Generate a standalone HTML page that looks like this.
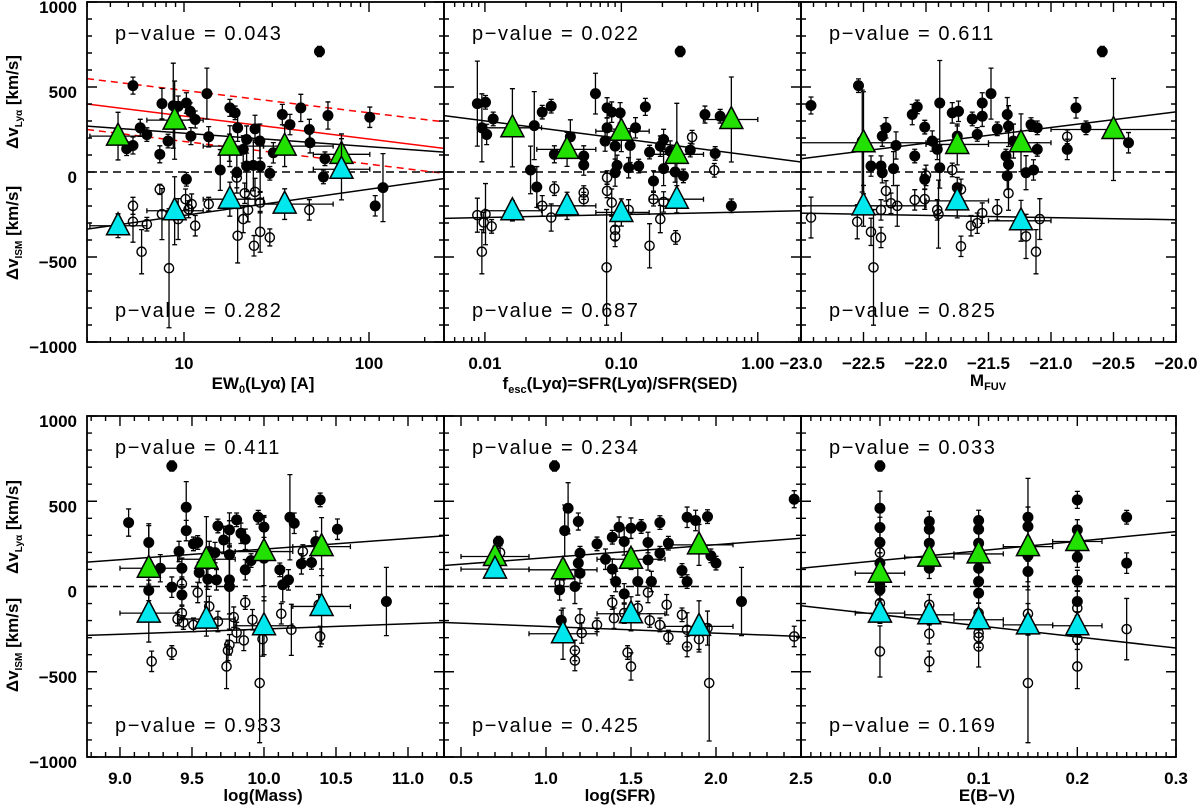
<!DOCTYPE html>
<html><head><meta charset="utf-8">
<style>
html,body{margin:0;padding:0;background:#fff;}
svg{display:block;font-family:"Liberation Sans",sans-serif;}
.tl{font-size:17px;font-weight:bold;fill:#000;}
.pv{font-size:20px;fill:#000;letter-spacing:1.6px;}
.at{font-size:17px;font-weight:bold;fill:#000;}
</style></head>
<body>
<svg id="fig" width="1200" height="806" viewBox="0 0 1200 806" xmlns="http://www.w3.org/2000/svg"></svg>
<script>
// ===== Panel 1: EW0(Lya) =====
const p1Lya=[[5.3,508,50],[7.6,402,90],[8.75,390,250],[9.3,387,60],[10.3,406,60],[10.8,357,50],[11.5,309,50],[13.3,461,150],[13.6,207,60],[10.9,211,50],[5.8,260,50],[6.3,220,40],[5.3,156,50],[4.9,137,40],[7.4,104,50],[8.2,182,40],[17.7,377,50],[18.9,348,40],[19.5,260,80],[21.8,191,80],[24.2,254,80],[25.7,182,100],[15.7,12,120],[19.3,-4,120],[21.8,35,150],[23.7,39,150],[25.8,35,150],[29.1,-8,40],[30.4,113,60],[34.0,338,60],[37.4,279,60],[42.8,377,80],[47.6,250,60],[48,172,60],[54,709,30],[57.8,78,40],[56.7,-29,40],[60,332,80],[101,322,60],[108,-199,60],[119,-92,200],[10.3,-43,40],[17.6,143,80],[20.9,133,80]];
const p1Ism=[[5.3,-199,50],[5.3,-293,120],[6.3,-307,40],[5.9,-469,130],[7.4,-102,30],[7.6,-248,150],[8.3,-566,350],[9.3,-277,120],[10.2,-160,60],[10.6,-219,50],[11.0,-189,60],[11.5,-316,60],[13.6,-189,40],[19.3,-33,60],[19.5,-375,160],[20.9,-277,80],[21.3,-125,60],[22.2,-223,70],[23.9,-434,60],[24.2,-117,80],[25.8,-180,60],[25.8,-352,120],[29.1,-385,50],[47.6,-223,60]];
const p1TriG=[[4.4,211,3.1,6.3,140],[8.9,305,6.3,12.7,230],[17.7,152,12.7,26.9,120],[35,152,26.9,64,120],[71,104,50,101,120]];
const p1TriC=[[4.4,-316,3.1,6.3,70],[8.9,-228,6.3,12.7,200],[17.7,-160,12.7,26.9,100],[35,-189,26.9,64,90],[71,16,50,101,180]];
const p1FitLya=[270,117];
const p1FitIsm=[-336,-39];
const p1RedFit=[400,139];
const p1RedUp=[549,295];
const p1RedLo=[250,-8];
const p1Pval=["0.043","0.282"];
const p1Ticks=[10,100];
const p1TickLabels=["10","100"];
// ===== Panel 2: f_esc =====
const p2Lya=[[0.0088,402,250],[0.0101,410,40],[0.0095,260,200],[0.0103,221,60],[0.0115,312,40],[0.023,273,200],[0.0216,12,140],[0.024,-88,120],[0.0263,352,40],[0.0306,387,40],[0.0323,104,50],[0.0423,207,100],[0.053,94,60],[0.053,41,60],[0.0646,461,120],[0.0786,377,60],[0.085,352,60],[0.098,348,60],[0.0786,260,60],[0.076,182,60],[0.09,152,100],[0.093,39,60],[0.09,-4,80],[0.116,156,100],[0.113,25,60],[0.127,260,60],[0.134,35,40],[0.15,383,50],[0.161,117,40],[0.172,-53,60],[0.193,152,60],[0.204,191,60],[0.204,20,100],[0.228,123,60],[0.248,0,60],[0.27,709,30],[0.285,-23,40],[0.32,129,40],[0.41,338,50],[0.487,109,40],[0.53,328,40],[0.64,-199,40]];
const p2Ism=[[0.0088,-254,100],[0.0101,-248,180],[0.0098,-297,60],[0.0112,-320,40],[0.0095,-469,130],[0.0263,-199,60],[0.0306,-268,80],[0.0323,-98,40],[0.053,-121,40],[0.053,-160,40],[0.0786,-33,40],[0.0786,-111,40],[0.085,-180,80],[0.09,-340,60],[0.09,-379,60],[0.078,-561,340],[0.113,-223,60],[0.161,-434,130],[0.172,-160,40],[0.193,-277,80],[0.204,-176,60],[0.25,-385,40],[0.33,205,40],[0.48,10,40]];
const p2TriG=[[0.0159,260,0.01,0.026,230],[0.04,133,0.024,0.065,100],[0.10,240,0.065,0.16,120],[0.255,104,0.16,0.4,300],[0.64,309,0.4,1.0,250]];
const p2TriC=[[0.0159,-228,0.01,0.026,60],[0.04,-199,0.024,0.065,80],[0.10,-238,0.065,0.16,80],[0.255,-160,0.16,0.4,80]];
const p2FitLya=[332,59];
const p2FitIsm=[-273,-228];
const p2Pval=["0.022","0.687"];
const p2Ticks=[0.01,0.1,1];
const p2TickLabels=["0.01","0.10","1.00"];
// ===== Panel 3: M_FUV =====
const p3Lya=[[-22.92,391,50],[-22.54,508,40],[-22.51,182,300],[-22.44,35,60],[-22.36,35,60],[-22.35,211,60],[-22.32,260,60],[-22.35,-4,60],[-22.26,20,100],[-22.24,156,80],[-22.11,338,60],[-22.07,383,40],[-22.09,94,40],[-22.01,264,40],[-22.01,-43,60],[-21.95,182,60],[-21.91,133,60],[-21.89,406,250],[-21.89,25,120],[-21.79,348,60],[-21.74,357,60],[-21.75,211,60],[-21.75,-92,60],[-21.63,312,40],[-21.59,221,40],[-21.55,406,60],[-21.55,328,60],[-21.48,461,150],[-21.43,254,40],[-21.36,94,40],[-21.35,338,100],[-21.34,270,120],[-21.34,45,60],[-21.35,-23,80],[-21.3,182,100],[-21.2,-4,100],[-21.16,279,40],[-21.14,12,60],[-21.11,260,40],[-21.11,133,40],[-20.87,133,60],[-20.8,377,60],[-20.72,260,40],[-20.59,709,30],[-20.38,172,60]];
const p3Ism=[[-22.92,-268,120],[-22.55,-293,100],[-22.44,-352,80],[-22.42,-561,340],[-22.36,-223,60],[-22.36,-385,60],[-22.32,-111,60],[-22.28,-184,60],[-22.23,-199,120],[-22.09,-164,60],[-22.01,-160,60],[-22.0,-20,60],[-21.91,-223,60],[-21.9,-248,200],[-21.79,12,40],[-21.72,-437,60],[-21.72,-102,60],[-21.64,-316,60],[-21.59,-301,60],[-21.55,-242,60],[-21.43,-223,60],[-21.34,-125,100],[-21.2,-379,130],[-21.12,-469,130],[-21.09,-277,120],[-20.87,207,40]];
const p3TriG=[[-22.5,172,-23.0,-22.0,300],[-21.75,162,-22.0,-21.5,120],[-21.24,172,-21.5,-21.0,170],[-20.5,250,-21.0,-20.0,300]];
const p3TriC=[[-22.5,-199,-23.0,-22.0,120],[-21.75,-170,-22.0,-21.5,100],[-21.24,-287,-21.5,-21.0,120]];
const p3FitLya=[78,354];
const p3FitIsm=[-242,-281];
const p3Pval=["0.611","0.825"];
const p3Ticks=[-23,-22.5,-22,-21.5,-21,-20.5,-20];
const p3TickLabels=["\u221223.0","\u221222.5","\u221222.0","\u221221.5","\u221221.0","\u221220.5","\u221220.0"];
// ===== Panel 4: log(Mass) =====
const p4Lya=[[9.06,375,80],[9.2,258,110],[9.2,-23,60],[9.28,107,80],[9.36,707,30],[9.36,-4,60],[9.41,205,60],[9.43,-49,60],[9.43,107,60],[9.46,465,150],[9.46,328,60],[9.51,250,40],[9.54,258,40],[9.55,82,60],[9.62,205,60],[9.61,43,60],[9.67,39,60],[9.68,355,40],[9.66,199,60],[9.72,273,80],[9.76,332,100],[9.76,186,200],[9.76,39,200],[9.76,0,250],[9.81,391,40],[9.84,312,60],[9.87,277,60],[9.87,98,60],[9.91,152,40],[9.96,406,40],[10.0,348,60],[10.0,166,250],[10.11,98,40],[10.13,10,100],[10.17,39,60],[10.18,406,250],[10.21,371,60],[10.26,133,60],[10.33,141,40],[10.39,508,40],[10.36,264,60],[10.51,336,60],[10.85,-88,200]];
const p4Ism=[[9.22,-439,60],[9.36,-387,40],[9.43,16,40],[9.4,-191,40],[9.43,-156,40],[9.44,-211,40],[9.51,-225,40],[9.54,-35,60],[9.62,-117,60],[9.68,-205,60],[9.74,-469,130],[9.75,-375,60],[9.76,-342,60],[9.79,-180,60],[9.81,-270,60],[9.87,-94,40],[9.86,-316,60],[9.92,-195,60],[9.99,-309,100],[9.97,-566,350],[10.12,-160,60],[10.19,-254,150],[10.27,205,40],[10.38,-107,60],[10.39,-293,60]];
const p4TriG=[[9.2,107,9.0,9.4,250],[9.6,160,9.4,9.8,250],[10.0,205,9.8,10.2,200],[10.4,234,10.2,10.6,170]];
const p4TriC=[[9.2,-156,9.0,9.4,170],[9.6,-191,9.4,9.8,100],[10.0,-230,9.8,10.2,170],[10.4,-117,10.2,10.6,220]];
const p4FitLya=[143,297];
const p4FitIsm=[-287,-211];
const p4Pval=["0.411","0.933"];
const p4Ticks=[9.0,9.5,10.0,10.5,11.0];
const p4TickLabels=["9.0","9.5","10.0","10.5","11.0"];
// ===== Panel 5: log(SFR) =====
const p5Lya=[[0.72,264,30],[1.05,707,30],[1.11,328,150],[1.13,459,150],[1.19,381,50],[1.2,195,40],[1.19,137,60],[1.2,78,60],[1.08,-20,60],[1.09,-199,60],[1.17,0,100],[1.3,250,40],[1.35,160,60],[1.39,289,40],[1.39,102,60],[1.41,29,60],[1.43,348,60],[1.46,264,80],[1.46,-43,60],[1.5,342,60],[1.56,352,40],[1.54,29,80],[1.6,258,60],[1.6,156,60],[1.62,29,60],[1.67,375,40],[1.67,195,40],[1.72,254,40],[1.8,94,40],[1.83,406,60],[1.83,29,40],[1.88,387,60],[1.95,410,40],[1.97,180,40],[2.0,137,40],[2.15,-88,200],[2.46,512,50]];
const p5Ism=[[0.73,199,40],[1.08,20,40],[1.17,-375,60],[1.17,-434,60],[1.2,-191,60],[1.21,-273,60],[1.3,-225,40],[1.39,-94,40],[1.4,-186,60],[1.46,-156,60],[1.48,-387,40],[1.5,-469,80],[1.54,-127,40],[1.6,-35,60],[1.61,-199,40],[1.67,-225,40],[1.71,-107,60],[1.72,-297,40],[1.8,-166,40],[1.83,-254,100],[1.83,-352,60],[1.9,-309,60],[1.95,-244,100],[1.96,-566,340],[2.46,-293,60]];
const p5TriG=[[0.7,176,0.5,0.9,60],[1.1,98,0.9,1.3,60],[1.5,160,1.3,1.7,60],[1.9,244,1.7,2.1,120]];
const p5TriC=[[0.7,102,0.5,0.9,40],[1.1,-277,0.9,1.3,150],[1.5,-160,1.3,1.7,100],[1.9,-234,1.7,2.1,150]];
const p5FitLya=[123,283];
const p5FitIsm=[-211,-293];
const p5Pval=["0.234","0.425"];
const p5Ticks=[0.5,1.0,1.5,2.0,2.5];
const p5TickLabels=["0.5","1.0","1.5","2.0","2.5"];
// ===== Panel 6: E(B-V) =====
const p6Lya=[[0,707,30],[0,459,100],[0,346,60],[0,258,60],[0,137,60],[0,29,60],[0,-20,60],[0.05,381,60],[0.05,336,60],[0.05,254,60],[0.05,176,60],[0.05,107,60],[0.1,387,60],[0.1,336,60],[0.1,254,60],[0.1,107,60],[0.1,29,60],[0.1,-39,60],[0.15,406,60],[0.15,352,60],[0.15,180,200],[0.15,88,60],[0.2,508,50],[0.2,332,60],[0.2,172,60],[0.2,35,60],[0.2,-88,60],[0.25,406,40],[0.25,137,60]];
const p6Ism=[[0,199,60],[0,10,60],[0,-98,60],[0,-381,150],[0.05,-107,60],[0.05,-277,60],[0.05,-439,60],[0.1,-156,60],[0.1,-273,60],[0.1,-297,60],[0.1,-352,120],[0.15,-160,60],[0.15,-566,350],[0.2,-127,60],[0.2,-309,60],[0.2,-469,130],[0.25,-250,180]];
const p6TriG=[[0,78,-0.025,0.025,60],[0.05,172,0.025,0.075,60],[0.1,191,0.075,0.125,60],[0.15,234,0.125,0.175,400],[0.2,264,0.175,0.225,60]];
const p6TriC=[[0,-156,-0.025,0.025,60],[0.05,-166,0.025,0.075,60],[0.1,-195,0.075,0.125,60],[0.15,-225,0.125,0.175,60],[0.2,-230,0.175,0.225,60]];
const p6FitLya=[107,322];
const p6FitIsm=[-113,-361];
const p6Pval=["0.033","0.169"];
const p6Ticks=[0.0,0.1,0.2,0.3];
const p6TickLabels=["0.0","0.1","0.2","0.3"];

const yTicks=[-1000,-500,0,500,1000];
const yTickLabels=["\u22121000","\u2212500","0","500","1000"];

const NS="http://www.w3.org/2000/svg";
const svg=document.getElementById('fig');
function mk(tag,attrs,parent){const e=document.createElementNS(NS,tag);for(const k in attrs)e.setAttribute(k,attrs[k]);(parent||svg).appendChild(e);return e;}

const layout=[
 {id:1,x0:87,x1:444,y0:2,y1:342,log:true,d0:0.4757,d1:2.4054,lya:p1Lya,ism:p1Ism,tg:p1TriG,tc:p1TriC,fl:p1FitLya,fi:p1FitIsm,pv:p1Pval,tk:p1Ticks,tkl:p1TickLabels,minor:[3,4,5,6,7,8,9,20,30,40,50,60,70,80,90,200],title:'x1',ylab:true},
 {id:2,x0:444,x1:801,y0:2,y1:342,log:true,d0:-2.2999,d1:0.3167,lya:p2Lya,ism:p2Ism,tg:p2TriG,tc:p2TriC,fl:p2FitLya,fi:p2FitIsm,pv:p2Pval,tk:p2Ticks,tkl:p2TickLabels,minor:[0.006,0.007,0.008,0.009,0.02,0.03,0.04,0.05,0.06,0.07,0.08,0.09,0.2,0.3,0.4,0.5,0.6,0.7,0.8,0.9,2],title:'x2'},
 {id:3,x0:801,x1:1176,y0:2,y1:342,log:false,d0:-23,d1:-20,step:0.1,lya:p3Lya,ism:p3Ism,tg:p3TriG,tc:p3TriC,fl:p3FitLya,fi:p3FitIsm,pv:p3Pval,tk:p3Ticks,tkl:p3TickLabels,title:'x3'},
 {id:4,x0:87,x1:444,y0:416,y1:757,log:false,d0:8.771,d1:11.25,step:0.1,lya:p4Lya,ism:p4Ism,tg:p4TriG,tc:p4TriC,fl:p4FitLya,fi:p4FitIsm,pv:p4Pval,tk:p4Ticks,tkl:p4TickLabels,title:'x4',ylab:true},
 {id:5,x0:444,x1:801,y0:416,y1:757,log:false,d0:0.4,d1:2.5,step:0.1,lya:p5Lya,ism:p5Ism,tg:p5TriG,tc:p5TriC,fl:p5FitLya,fi:p5FitIsm,pv:p5Pval,tk:p5Ticks,tkl:p5TickLabels,title:'x5'},
 {id:6,x0:801,x1:1176,y0:416,y1:757,log:false,d0:-0.08,d1:0.3,step:0.01,lya:p6Lya,ism:p6Ism,tg:p6TriG,tc:p6TriC,fl:p6FitLya,fi:p6FitIsm,pv:p6Pval,tk:p6Ticks,tkl:p6TickLabels,title:'x6'}
];

layout.forEach(P=>{
  const g=mk('g',{});
  
  
  const clipId='clip'+P.id;
  const cp=mk('clipPath',{id:clipId},g);
  mk('rect',{x:P.x0,y:P.y0,width:P.x1-P.x0,height:P.y1-P.y0},cp);
  const sx=v=>{const t=P.log?Math.log10(v):v;return P.x0+(t-P.d0)/(P.d1-P.d0)*(P.x1-P.x0);};
  const sxd=t=>P.x0+(t-P.d0)/(P.d1-P.d0)*(P.x1-P.x0);
  const sy=v=>P.y1-(v+1000)/2000*(P.y1-P.y0);
  const plot=mk('g',{'clip-path':'url(#'+clipId+')'},g);
  // zero line
  const z=mk('line',{x1:P.x0,x2:P.x1,y1:sy(0),y2:sy(0),stroke:'#000','stroke-width':1.6,'stroke-dasharray':'8 5'},plot);
  
  
  // fits
  const fit=(arr,color,dash,name)=>{const l=mk('line',{x1:P.x0,x2:P.x1,y1:sy(arr[0]),y2:sy(arr[1]),stroke:color,'stroke-width':1.5},plot);if(dash)l.setAttribute('stroke-dasharray',dash);
    
    };
  fit(P.fl,'#000',null,'lya-fit-line');
  fit(P.fi,'#000',null,'ism-fit-line');
  if(P.id===1){fit(p1RedFit,'#f00',null,'red-fit-line');fit(p1RedUp,'#f00','7 5','red-upper-dashed');fit(p1RedLo,'#f00','7 5','red-lower-dashed');}
  // points
  const pts=(arr,filled,name)=>{arr.forEach(p=>{const cx=sx(p[0]),cy=sy(p[1]);
    const eb=mk('path',{d:`M${cx},${sy(p[1]-p[2])}V${sy(p[1]+p[2])}M${cx-2.5},${sy(p[1]-p[2])}h5M${cx-2.5},${sy(p[1]+p[2])}h5`,stroke:'#000','stroke-width':1.3,fill:'none'},plot);
    
    
    const c=mk('circle',{cx:cx,cy:cy,r:filled?4.8:4.6,fill:filled?'#000':'none',stroke:'#000','stroke-width':1.4},plot);
    
    });};
  pts(P.ism,false,'ism-point');
  pts(P.lya,true,'lya-point');
  const tris=(arr,color,name)=>{arr.forEach(p=>{const cx=sx(p[0]),cy=sy(p[1]);
    const eb=mk('path',{d:`M${sx(p[2])},${cy}H${sx(p[3])}M${sx(p[2])},${cy-2.5}v5M${sx(p[3])},${cy-2.5}v5M${cx},${sy(p[1]-p[4])}V${sy(p[1]+p[4])}M${cx-2.5},${sy(p[1]-p[4])}h5M${cx-2.5},${sy(p[1]+p[4])}h5`,stroke:'#000','stroke-width':1.3,fill:'none'},plot);
    
    
    const t=mk('polygon',{points:`${cx},${cy-13} ${cx-11.5},${cy+9} ${cx+11.5},${cy+9}`,fill:color,stroke:'#000','stroke-width':1.5},plot);
    
    });};
  tris(P.tg,'#22e000','lya-bin-triangle');
  tris(P.tc,'#00e8ee','ism-bin-triangle');
  // frame
  const fr=mk('rect',{x:P.x0,y:P.y0,width:P.x1-P.x0,height:P.y1-P.y0,fill:'none',stroke:'#000','stroke-width':1.8},g);
  
  
  // ticks
  let d='';
  for(let v=-1000;v<=1000;v+=100){const y=sy(v),L=(v%500===0)?10:5;d+=`M${P.x0},${y}h${L}M${P.x1},${y}h${-L}`;}
  const xt=(px,L)=>{d+=`M${px},${P.y1}v${-L}M${px},${P.y0}v${L}`;};
  P.tk.forEach(v=>{const px=sx(v);if(px>=P.x0-0.5&&px<=P.x1+0.5)xt(px,10);});
  if(P.log){P.minor.forEach(v=>{const px=sx(v);if(px>P.x0&&px<P.x1)xt(px,5);});}
  else{const n0=Math.ceil(P.d0/P.step-1e-6),n1=Math.floor(P.d1/P.step+1e-6);for(let n=n0;n<=n1;n++){xt(sxd(n*P.step),5);}}
  const tp=mk('path',{d:d,stroke:'#000','stroke-width':1.4,fill:'none'},g);
  
  
  // x tick labels
  P.tk.forEach((v,i)=>{const t=mk('text',{x:sx(v),y:P.y1+27,'text-anchor':'middle',class:'tl'},g);t.textContent=P.tkl[i];
    
    });
  if(P.ylab){yTicks.forEach((v,i)=>{const t=mk('text',{x:P.x0-10,y:sy(v)+11,'text-anchor':'end',class:'tl'},g);t.textContent=yTickLabels[i];
    
    });}
  // p-values
  const pv1=mk('text',{x:P.x0+28,y:P.y0+38,class:'pv'},g);pv1.textContent='p\u2212value = '+P.pv[0];
  
  
  const pv2=mk('text',{x:P.x0+28,y:P.y1-25,class:'pv'},g);pv2.textContent='p\u2212value = '+P.pv[1];
  
  
});
</script>
<svg width="0" height="0"></svg>
<div style="position:absolute;left:0;top:0;width:1200px;height:806px;pointer-events:none;">
<svg width="1200" height="806" style="position:absolute;left:0;top:0" font-family="Liberation Sans, sans-serif">
 <g font-size="17" font-weight="bold" text-anchor="middle">
  <text x="263" y="389">EW<tspan font-size="11" dy="4">0</tspan><tspan dy="-4">(Lyα) [A]</tspan></text>
  <text x="620" y="389">f<tspan font-size="11" dy="4">esc</tspan><tspan dy="-4">(Lyα)=SFR(Lyα)/SFR(SED)</tspan></text>
  <text x="988" y="386">M<tspan font-size="11" dy="4">FUV</tspan></text>
  <text x="263" y="801">log(Mass)</text>
  <text x="620" y="801">log(SFR)</text>
  <text x="987" y="801">E(B−V)</text>
  <text transform="translate(18,102) rotate(-90)">Δv<tspan font-size="10" dy="4">Lyα</tspan><tspan dy="-4"> [km/s]</tspan></text>
  <text transform="translate(18,233) rotate(-90)">Δv<tspan font-size="10" dy="4">ISM</tspan><tspan dy="-4"> [km/s]</tspan></text>
  <text transform="translate(18,527) rotate(-90)">Δv<tspan font-size="10" dy="4">Lyα</tspan><tspan dy="-4"> [km/s]</tspan></text>
  <text transform="translate(18,645) rotate(-90)">Δv<tspan font-size="10" dy="4">ISM</tspan><tspan dy="-4"> [km/s]</tspan></text>
 </g>
</svg>
</div>
</body></html>
